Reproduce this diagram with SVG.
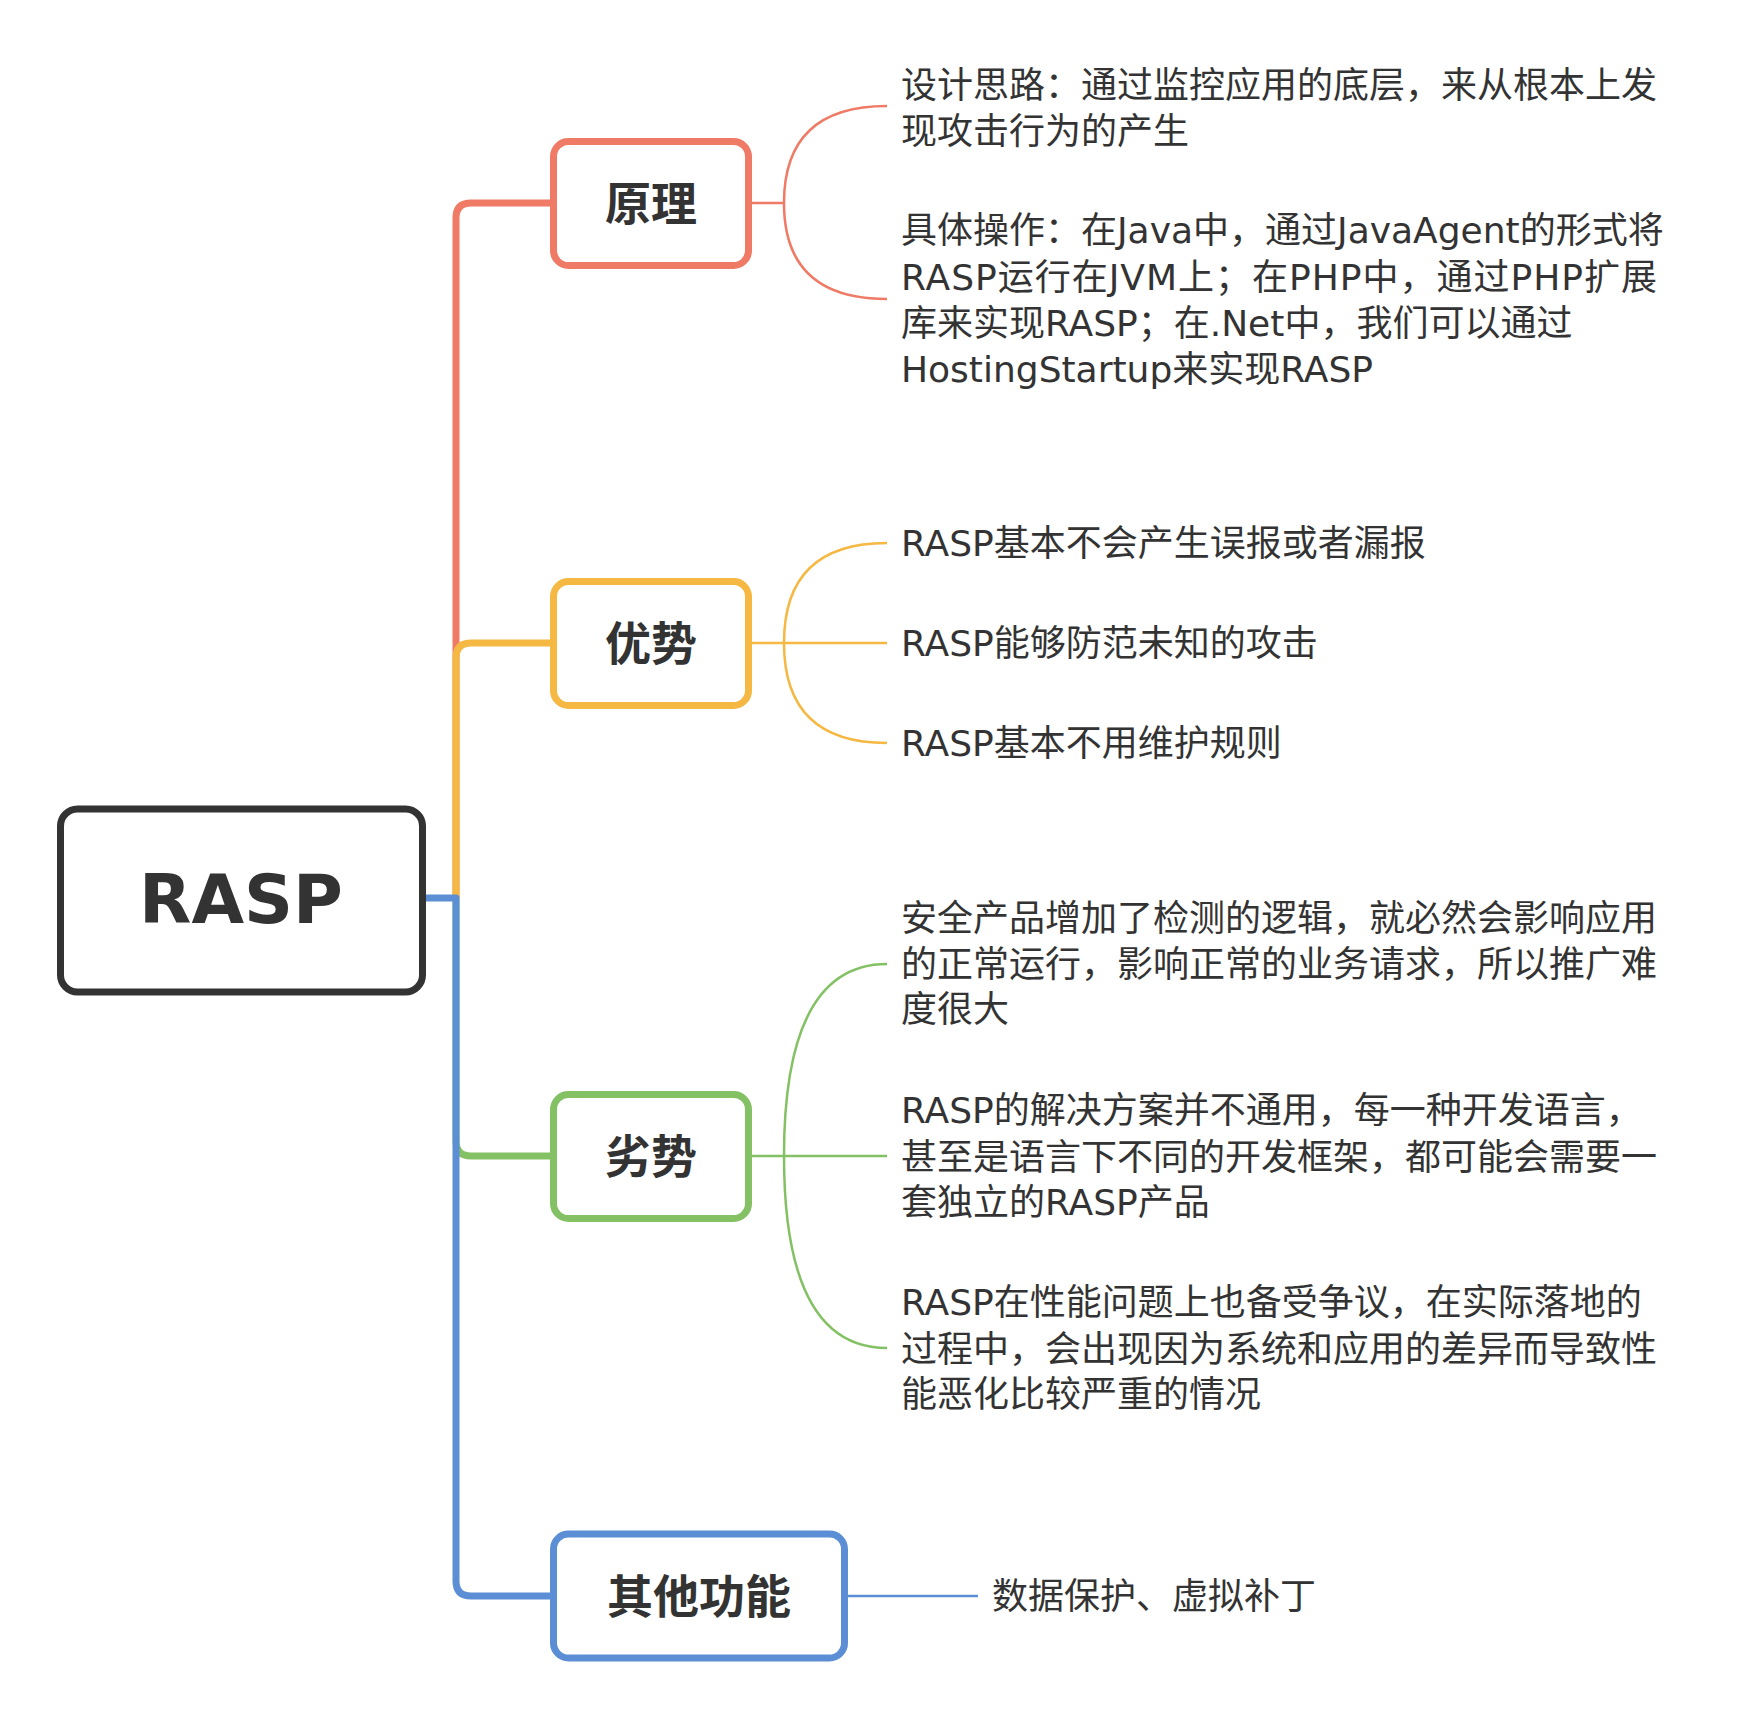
<svg xmlns="http://www.w3.org/2000/svg" width="1742" height="1716" viewBox="0 0 1742 1716">
<style>
.bg{fill:#ffffff}
.trunk{fill:none;stroke-width:7;stroke-linecap:butt;stroke-linejoin:round}
.thin{fill:none;stroke-width:2.5}
.box{fill:#ffffff;stroke-width:7}
.red{stroke:#EF7A65}
.yel{stroke:#F5B843}
.grn{stroke:#84C164}
.blu{stroke:#5B8ED5}
.root{font-family:"DejaVu Sans","Liberation Sans",sans-serif;font-weight:bold;font-size:68px;fill:#333333;text-anchor:middle}
.lbl{font-family:"Noto Sans CJK SC","Noto Sans CJK JP",sans-serif;font-weight:bold;font-size:46px;fill:#333333;text-anchor:middle}
.txt{font-family:"DejaVu Sans","Noto Sans CJK SC",sans-serif;font-size:36px;fill:#333333}
</style>
<rect class="bg" x="0" y="0" width="1742" height="1716"/>
<g id="connectors">
<path class="trunk red" d="M456,898 V218 Q456,203 471,203 H554"/>
<path class="trunk yel" d="M456,898 V658 Q456,643 471,643 H554"/>
<path class="trunk grn" d="M456,898 V1141 Q456,1156 471,1156 H554"/>
<path class="trunk blu" d="M423,898 H456 V1581 Q456,1596 471,1596 H554"/>
<path class="thin red" d="M751,203 H784 M784,203 Q784,106 887,106 M784,203 Q784,299 887,299"/>
<path class="thin yel" d="M751,643 H887 M784,643 Q784,543 887,543 M784,643 Q784,743 887,743"/>
<path class="thin grn" d="M751,1156 H887 M784,1156 Q784,964 887,964 M784,1156 Q784,1348 887,1348"/>
<path class="thin blu" d="M847,1596 H978"/>
</g>
<g id="node-root">
<rect x="60.5" y="809" width="362" height="183" rx="17" style="fill:#fff;stroke:#333333;stroke-width:7"/>
<text class="root" x="241" y="923">RASP</text>
</g>
<g id="node-yuanli">
<rect class="box red" x="553.5" y="141.5" width="195" height="124" rx="15"/>
<text class="lbl" x="651" y="220">原理</text>
</g>
<g id="node-youshi">
<rect class="box yel" x="553.5" y="581.5" width="195" height="124" rx="15"/>
<text class="lbl" x="651" y="660">优势</text>
</g>
<g id="node-lieshi">
<rect class="box grn" x="553.5" y="1094.5" width="195" height="124" rx="15"/>
<text class="lbl" x="651" y="1173">劣势</text>
</g>
<g id="node-qita">
<rect class="box blu" x="553.5" y="1534" width="291" height="124" rx="15"/>
<text class="lbl" x="699" y="1613">其他功能</text>
</g>
<g id="leaf-sheji">
<text class="txt" x="901" y="98">设计思路：通过监控应用的底层，来从根本上发</text>
<text class="txt" x="901" y="144">现攻击行为的产生</text>
</g>
<g id="leaf-caozuo">
<text class="txt" x="901" y="243">具体操作：在Java中，通过JavaAgent的形式将</text>
<text class="txt" x="901" y="289.5" textLength="756" lengthAdjust="spacing">RASP运行在JVM上；在PHP中，通过PHP扩展</text>
<text class="txt" x="901" y="336">库来实现RASP；在.Net中，我们可以通过</text>
<text class="txt" x="901" y="382">HostingStartup来实现RASP</text>
</g>
<g id="leaf-y1"><text class="txt" x="901" y="556">RASP基本不会产生误报或者漏报</text></g>
<g id="leaf-y2"><text class="txt" x="901" y="656">RASP能够防范未知的攻击</text></g>
<g id="leaf-y3"><text class="txt" x="901" y="756">RASP基本不用维护规则</text></g>
<g id="leaf-l1">
<text class="txt" x="901" y="931">安全产品增加了检测的逻辑，就必然会影响应用</text>
<text class="txt" x="901" y="976.5">的正常运行，影响正常的业务请求，所以推广难</text>
<text class="txt" x="901" y="1022">度很大</text>
</g>
<g id="leaf-l2">
<text class="txt" x="901" y="1123">RASP的解决方案并不通用，每一种开发语言，</text>
<text class="txt" x="901" y="1169.5">甚至是语言下不同的开发框架，都可能会需要一</text>
<text class="txt" x="901" y="1215">套独立的RASP产品</text>
</g>
<g id="leaf-l3">
<text class="txt" x="901" y="1315">RASP在性能问题上也备受争议，在实际落地的</text>
<text class="txt" x="901" y="1361.5">过程中，会出现因为系统和应用的差异而导致性</text>
<text class="txt" x="901" y="1407">能恶化比较严重的情况</text>
</g>
<g id="leaf-qita"><text class="txt" x="992" y="1609">数据保护、虚拟补丁</text></g>
</svg>
